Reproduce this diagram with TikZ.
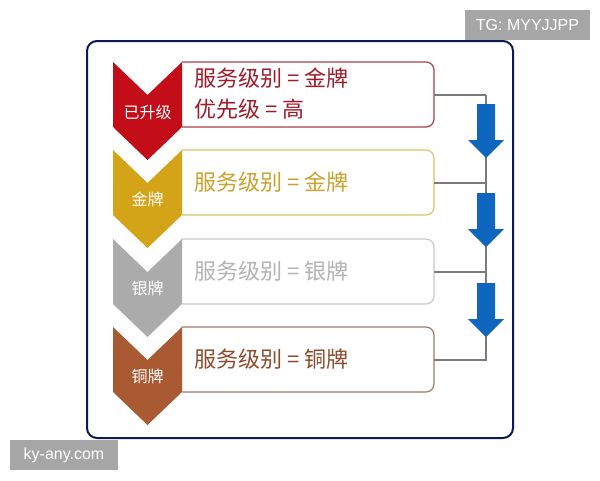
\documentclass[tikz,border=0pt]{standalone}
\usepackage{fontspec}
\newfontfamily\cjk{Noto Sans CJK SC}
\newfontfamily\wmfont{Liberation Sans}

\definecolor{chevred}{HTML}{C30D18}
\definecolor{linered}{HTML}{A8404A}
\definecolor{textred}{HTML}{9E1B2A}
\definecolor{chevgold}{HTML}{D4A418}
\definecolor{linegold}{HTML}{D9C270}
\definecolor{textgold}{HTML}{C9A22E}
\definecolor{chevsilver}{HTML}{ABABAB}
\definecolor{linesilver}{HTML}{C9C9C9}
\definecolor{textsilver}{HTML}{B3B3B3}
\definecolor{chevbronze}{HTML}{A95A33}
\definecolor{linebronze}{HTML}{9C7A68}
\definecolor{textbronze}{HTML}{8C4A2C}
\definecolor{arrowblue}{HTML}{0E66BF}
\definecolor{trunkgray}{HTML}{7A7A7A}
\definecolor{framenavy}{HTML}{0D1A4D}
\definecolor{markgray}{HTML}{A6A6A6}

\tikzset{
  lvbox/.style={draw=#1, line width=1.2pt, fill=white, rounded corners=8pt},
  chevlabel/.style={text=white, font=\cjk\fontsize{16}{18}\selectfont, inner sep=0pt},
  lvtext/.style={text=#1, font=\cjk\fontsize{22}{31}\selectfont, anchor=west, align=left, inner sep=0pt},
  trunk/.style={draw=trunkgray, line width=2pt},
  markbox/.style={fill=markgray, text=white, font=\wmfont\fontsize{16}{18}\selectfont,
    minimum height=30pt, inner xsep=8pt}
}

\begin{document}
\begin{tikzpicture}[x=1pt, y=-1pt]
        \useasboundingbox (0,0) rectangle (600,480);

        % outer frame
        \draw[framenavy, line width=2pt, rounded corners=10pt] (87,41) rectangle (513,438);

        % level boxes
        \draw[lvbox=linered] (182,62) -- (434,62) -- (434,127) -- (182,127);
        \draw[lvbox=linegold] (182,150) -- (434,150) -- (434,215) -- (182,215);
        \draw[lvbox=linesilver] (182,239) -- (434,239) -- (434,304) -- (182,304);
        \draw[lvbox=linebronze] (182,327) -- (434,327) -- (434,392) -- (182,392);

        % chevrons
        \fill[chevred] (113,62) -- (147.5,95) -- (182,62) -- (182,127) -- (147.5,160) -- (113,127) -- cycle;
        \fill[chevgold] (113,150) -- (147.5,183) -- (182,150) -- (182,215) -- (147.5,248) -- (113,215) -- cycle;
        \fill[chevsilver] (113,239) -- (147.5,272) -- (182,239) -- (182,304) -- (147.5,337) -- (113,304) -- cycle;
        \fill[chevbronze] (113,327) -- (147.5,360) -- (182,327) -- (182,392) -- (147.5,425) -- (113,392) -- cycle;

        \node[chevlabel] (c1) at (147.5,112) {已升级};
        \node[chevlabel] (c2) at (147.5,199) {金牌};
        \node[chevlabel] (c3) at (147.5,288) {银牌};
        \node[chevlabel] (c4) at (147.5,376) {铜牌};

        % box texts
        \node[lvtext=textred] (s1) at (194,93.5) {服务级别 = 金牌\\优先级 = 高};
        \node[lvtext=textgold] (s2) at (194,182.5) {服务级别 = 金牌};
        \node[lvtext=textsilver] (s3) at (194,271.5) {服务级别 = 银牌};
        \node[lvtext=textbronze] (s4) at (194,359.5) {服务级别 = 铜牌};

        % connectors
        \coordinate (r1) at (434,94.5);
        \coordinate (r2) at (434,182.5);
        \coordinate (r3) at (434,271.5);
        \coordinate (r4) at (434,359.5);
        \coordinate (t1) at (486,94.5);
        \coordinate (t2) at (486,182.5);
        \coordinate (t3) at (486,271.5);
        \coordinate (t4) at (486,359.5);
        \draw[trunk] (r1) -- (t1);
        \draw[trunk] (r2) -- (t2);
        \draw[trunk] (r3) -- (t3);
        \draw[trunk] (t1) -- (t4) -- (r4);

        % blue arrows
        \fill[arrowblue] (477,104) -- (495,104) -- (495,140) -- (504,140) -- (486,158) -- (468,140) -- (477,140) -- cycle;
        \fill[arrowblue] (477,193) -- (495,193) -- (495,229) -- (504,229) -- (486,247) -- (468,229) -- (477,229) -- cycle;
        \fill[arrowblue] (477,283) -- (495,283) -- (495,319) -- (504,319) -- (486,337) -- (468,319) -- (477,319) -- cycle;

        % watermarks
        \node[markbox, minimum width=125pt] (tg) at (527.5,25) {TG: MYYJJPP};
        \node[markbox, minimum width=108pt] (ky) at (64,455) {ky-any.com};
    \end{tikzpicture}
\end{document}
